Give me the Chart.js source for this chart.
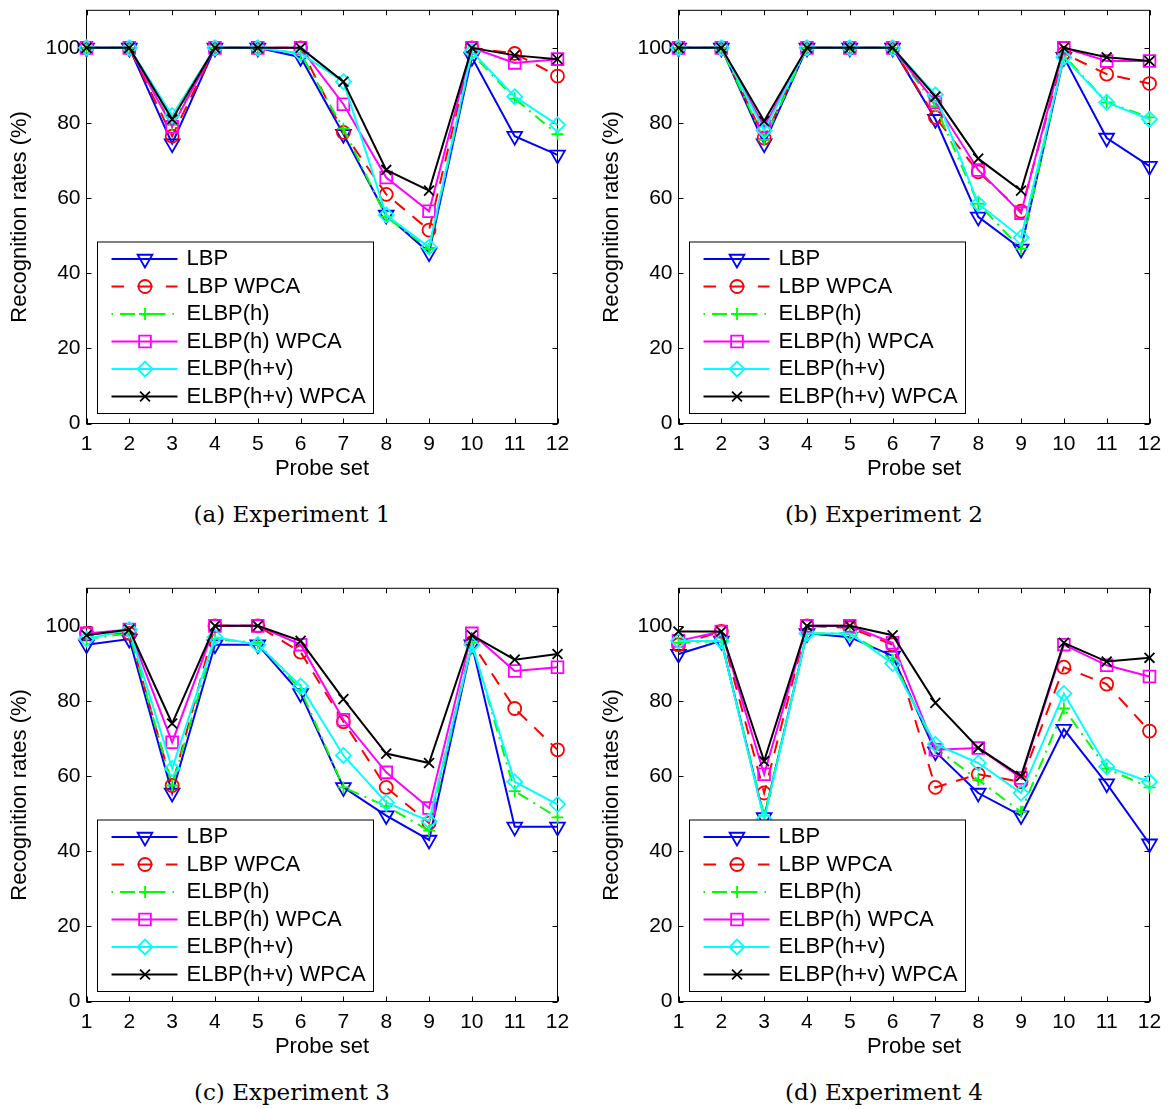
<!DOCTYPE html>
<html><head><meta charset="utf-8">
<script src="https://cdn.jsdelivr.net/npm/chart.js@4.4.1/dist/chart.umd.min.js"></script>
<style>
body{margin:0;background:#fff;width:1173px;height:1109px;position:relative;overflow:hidden}
canvas{position:absolute}
.cap{position:absolute;font-family:"DejaVu Serif";font-size:23px;white-space:nowrap;transform:translate(-50%,-50%);color:#000}
</style></head><body>
<canvas id="c1" width="580" height="490" style="left:0px;top:0px"></canvas>
<canvas id="c2" width="580" height="490" style="left:592px;top:0px"></canvas>
<canvas id="c3" width="580" height="490" style="left:0px;top:578px"></canvas>
<canvas id="c4" width="580" height="490" style="left:592px;top:578px"></canvas>
<div class="cap" style="left:292px;top:514px">(a) Experiment 1</div>
<div class="cap" style="left:884px;top:514px">(b) Experiment 2</div>
<div class="cap" style="left:292px;top:1092px">(c) Experiment 3</div>
<div class="cap" style="left:884px;top:1092px">(d) Experiment 4</div>
<script>
// ---------- data ----------
const probeSets = ['1','2','3','4','5','6','7','8','9','10','11','12'];
const yTicks = [0, 20, 40, 60, 80, 100];
const seriesNames = ['LBP', 'LBP WPCA', 'ELBP(h)', 'ELBP(h) WPCA', 'ELBP(h+v)', 'ELBP(h+v) WPCA'];
const xTitle = 'Probe set';
const yTitle = 'Recognition rates (%)';

const exp1LBP      = [100,100,74.5,100,100,97.5,77,55.5,45.5,97.5,76.5,71.5];
const exp1LBPWPCA  = [100,100,76.5,100,100,100,77.5,61,51.5,100,98.5,92.5];
const exp1ELBPh    = [100,100,79.5,100,100,98.5,78.5,55,46.5,98.5,86.5,77];
const exp1ELBPhW   = [100,100,79,100,100,100,85,65.5,56.5,100,96,97];
const exp1ELBPhv   = [100,100,82,100,100,98.5,91,55.5,47,99,87,79.5];
const exp1ELBPhvW  = [100,100,81,100,100,100,91,67.5,62,100,98,97];

const exp2LBP      = [100,100,74.5,100,100,100,81,55,46.5,97.5,76,68.5];
const exp2LBPWPCA  = [100,100,76,100,100,100,81.5,67,56.5,98.5,93,90.5];
const exp2ELBPh    = [100,100,75.5,100,100,100,84.5,58.5,46.5,98,85.5,81.5];
const exp2ELBPhW   = [100,100,79,100,100,100,85.5,67.5,56,100,96.5,96.5];
const exp2ELBPhv   = [100,100,78,100,100,100,87.5,58.5,49.5,97.5,85.5,81];
const exp2ELBPhvW  = [100,100,80.5,100,100,100,87,70.5,62,100,97.5,96.5];

const exp3LBP      = [95,96.5,55.5,95,95,82,57,49.5,43,95,46.5,46.5];
const exp3LBPWPCA  = [98,98,57.5,100,100,93,74.5,57,47.5,95.5,78,67];
const exp3ELBPh    = [96.5,98,57.5,96.5,95.5,83,57,52,45.5,95.5,56,49];
const exp3ELBPhW   = [98,99,69,100,100,95,75,61,51.5,98,88,89];
const exp3ELBPhv   = [96.5,99,62,97,95,84,65.5,53,48,95,58.5,52.5];
const exp3ELBPhvW  = [97.5,99,74,100,100,96,80.5,66,63.5,97.5,91,92.5];

const exp4LBP      = [92.5,96,49,98,97,92,66.5,55.5,49.5,72.5,58,42];
const exp4LBPWPCA  = [95,98.5,55.5,100,99.5,95,57,60.5,58.5,89,84.5,72];
const exp4ELBPh    = [95.5,96,49.5,98,98,91,67.5,59,50.5,78,62,57];
const exp4ELBPhW   = [96,98.5,60.5,100,100,95.5,67,67.5,59.5,95,89.5,86.5];
const exp4ELBPhv   = [96,96,48.5,98,98,90,68.5,63.5,55.5,82,62.5,58.5];
const exp4ELBPhvW  = [98.5,98.5,64,100,100,97.5,79.5,67.5,60,95.5,90.5,91.5];

// ---------- styles ----------
const styles = [
  {color:'#0000ff', dash:[], point:'triangle', rot:180, r:8.5},
  {color:'#ff0000', dash:[13,10], point:'circle', rot:0, r:6.5, legendDash:[12.6,13.4,15,13.4], legendOffset:0},
  {color:'#00ff00', dash:[12,6,2,6], point:'cross', rot:0, r:6, legendDash:[15,7,1.5,7], legendOffset:22},
  {color:'#ff00ff', dash:[], point:'rect', rot:0, r:8.3},
  {color:'#00ffff', dash:[], point:'rectRot', rot:0, r:7.5},
  {color:'#000000', dash:[], point:'crossRot', rot:0, r:7}
];
const FONT = '"Liberation Sans", Arial, sans-serif';

function fallbackPoint(ctx, o, x, y){
  const r = o.radius; ctx.beginPath();
  if (o.pointStyle==='circle'){ ctx.arc(x,y,r,0,Math.PI*2); }
  else if (o.pointStyle==='triangle'){ ctx.moveTo(x,y+r); ctx.lineTo(x-r*0.866,y-r/2); ctx.lineTo(x+r*0.866,y-r/2); ctx.closePath(); }
  else if (o.pointStyle==='rect'){ const s=r*Math.SQRT1_2; ctx.rect(x-s,y-s,2*s,2*s); }
  else if (o.pointStyle==='rectRot'){ ctx.moveTo(x-r,y); ctx.lineTo(x,y-r); ctx.lineTo(x+r,y); ctx.lineTo(x,y+r); ctx.closePath(); }
  else if (o.pointStyle==='cross'){ ctx.moveTo(x,y-r); ctx.lineTo(x,y+r); ctx.moveTo(x-r,y); ctx.lineTo(x+r,y); }
  else if (o.pointStyle==='crossRot'){ const s=r*Math.SQRT1_2; ctx.moveTo(x-s,y-s); ctx.lineTo(x+s,y+s); ctx.moveTo(x-s,y+s); ctx.lineTo(x+s,y-s); }
  ctx.stroke();
}

const framePlugin = {
  id:'frame',
  beforeDatasetsDraw(chart){
    const {ctx, chartArea:a, scales:{x, y}} = chart;
    ctx.save();
    ctx.strokeStyle = '#000'; ctx.lineWidth = 1; ctx.setLineDash([]);
    ctx.strokeRect(a.left, a.top, a.right - a.left, a.bottom - a.top);
    const t = 5;
    ctx.beginPath();
    x.ticks.forEach((tk, i) => {
      const px = Math.round(x.getPixelForTick(i)) + 0.5;
      ctx.moveTo(px, a.bottom); ctx.lineTo(px, a.bottom - t);
      ctx.moveTo(px, a.top); ctx.lineTo(px, a.top + t);
    });
    y.ticks.forEach(tk => {
      const py = Math.round(y.getPixelForValue(tk.value)) + 0.5;
      ctx.moveTo(a.left, py); ctx.lineTo(a.left + t, py);
      ctx.moveTo(a.right, py); ctx.lineTo(a.right - t, py);
    });
    ctx.stroke();
    ctx.restore();
  }
};

const legendPlugin = {
  id:'boxLegend',
  afterDatasetsDraw(chart){
    const ctx = chart.ctx, a = chart.chartArea;
    const w = 276, h = 171.5;
    const x0 = Math.round(a.left + 10.5) + 0.5, y1 = Math.round(a.bottom - 11) + 0.5, y0 = y1 - h;
    ctx.save();
    ctx.fillStyle = '#fff'; ctx.fillRect(x0, y0, w, h);
    ctx.strokeStyle = '#000'; ctx.lineWidth = 1; ctx.setLineDash([]);
    ctx.strokeRect(x0, y0, w, h);
    chart.data.datasets.forEach((ds, i) => {
      const st = styles[i];
      const y = y0 + 17 + i * 27.5;
      ctx.strokeStyle = ds.borderColor; ctx.lineWidth = ds.borderWidth;
      ctx.setLineDash(st.legendDash || st.dash); ctx.lineDashOffset = st.legendOffset || 0;
      ctx.beginPath(); ctx.moveTo(x0 + 14, y); ctx.lineTo(x0 + 80, y); ctx.stroke();
      ctx.setLineDash([]); ctx.lineDashOffset = 0;
      ctx.lineWidth = ds.pointBorderWidth; ctx.fillStyle = 'rgba(0,0,0,0)';
      const o = {pointStyle: ds.pointStyle, rotation: ds.pointRotation || 0, radius: ds.pointRadius, borderWidth: ds.pointBorderWidth};
      if (Chart.helpers && Chart.helpers.drawPoint) Chart.helpers.drawPoint(ctx, o, x0 + 47.5, y);
      else fallbackPoint(ctx, o, x0 + 47.5, y);
      ctx.fillStyle = '#000'; ctx.font = '22px ' + FONT; ctx.textBaseline = 'middle'; ctx.textAlign = 'left';
      ctx.fillText(ds.label, x0 + 89, y);
    });
    ctx.restore();
  }
};

function makeChart(id, series){
  const datasets = series.map((vals, i) => {
    const st = styles[i];
    return {
      label: seriesNames[i], data: vals,
      borderColor: st.color, backgroundColor: 'rgba(0,0,0,0)',
      borderWidth: 2, borderDash: st.dash, tension: 0,
      pointStyle: st.point, pointRotation: st.rot, pointRadius: st.r, pointHoverRadius: st.r,
      pointBorderColor: st.color, pointBackgroundColor: 'rgba(0,0,0,0)', pointBorderWidth: 1.8,
      clip: false, order: 6 - i
    };
  });
  return new Chart(document.getElementById(id), {
    type: 'line',
    data: {labels: probeSets, datasets},
    plugins: [framePlugin, legendPlugin],
    options: {
      responsive: false, animation: false, devicePixelRatio: 1,
      layout: {padding: {left: 0, top: 6.5, right: 22.5, bottom: 0}},
      plugins: {legend: {display: false}, tooltip: {enabled: false}},
      scales: {
        x: {
          type: 'category', offset: false,
          grid: {display: false, drawTicks: false}, border: {display: false},
          ticks: {color: '#000', font: {family: FONT, size: 21}, padding: 8, maxRotation: 0, autoSkip: false},
          title: {display: true, text: xTitle, color: '#000', font: {family: FONT, size: 22}, padding: {top: 0, bottom: 8}},
          afterFit(s){ s.height = 66.5; s.paddingLeft = 0; s.paddingRight = 0; }
        },
        y: {
          type: 'linear', min: 0, max: 110,
          grid: {display: false, drawTicks: false}, border: {display: false},
          ticks: {color: '#000', font: {family: FONT, size: 21}, padding: 6},
          afterBuildTicks(s){ s.ticks = yTicks.map(v => ({value: v})); },
          title: {display: true, text: yTitle, color: '#000', font: {family: FONT, size: 22}, padding: {top: 7, bottom: 0}},
          afterFit(s){ s.width = 86.5; s.paddingTop = 0; s.paddingBottom = 0; }
        }
      }
    }
  });
}

makeChart('c1', [exp1LBP, exp1LBPWPCA, exp1ELBPh, exp1ELBPhW, exp1ELBPhv, exp1ELBPhvW]);
makeChart('c2', [exp2LBP, exp2LBPWPCA, exp2ELBPh, exp2ELBPhW, exp2ELBPhv, exp2ELBPhvW]);
makeChart('c3', [exp3LBP, exp3LBPWPCA, exp3ELBPh, exp3ELBPhW, exp3ELBPhv, exp3ELBPhvW]);
makeChart('c4', [exp4LBP, exp4LBPWPCA, exp4ELBPh, exp4ELBPhW, exp4ELBPhv, exp4ELBPhvW]);
</script>
</body></html>
